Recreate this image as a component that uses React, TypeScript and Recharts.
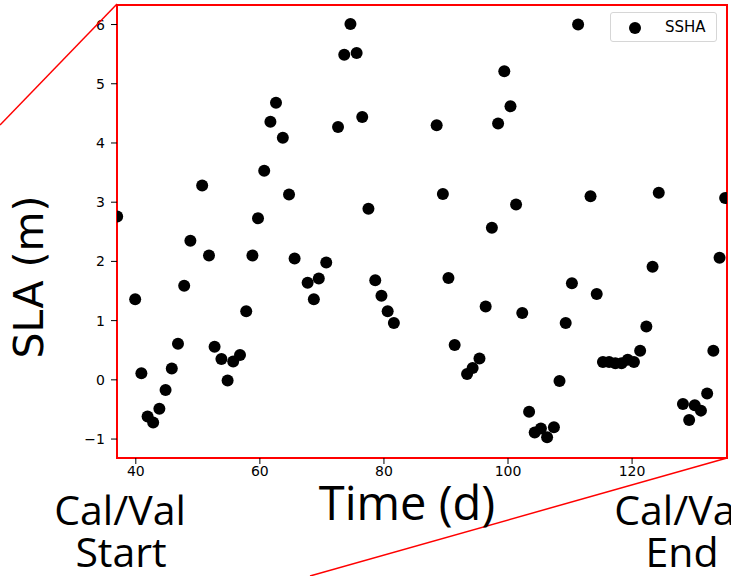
import React from "react";
import { ScatterChart, Scatter, XAxis, YAxis, ReferenceArea } from "recharts";

// days since start and sea level anomaly (m)
const days = [
  37.0, 39.9, 40.9, 41.9, 42.8, 43.8, 44.8, 45.8, 46.8, 47.8, 48.8, 50.7,
  51.8, 52.7, 53.8, 54.8, 55.7, 56.8, 57.8, 58.8, 59.7, 60.7, 61.7, 62.6,
  63.7, 64.7, 65.6, 67.7, 68.7, 69.5, 70.7, 72.6, 73.6, 74.6, 75.6, 76.5,
  77.5, 78.6, 79.6, 80.6, 81.6, 88.5, 89.5, 90.4, 91.4, 93.4, 94.3, 95.4,
  96.4, 97.4, 98.4, 99.4, 100.4, 101.3, 102.3, 103.4, 104.3, 105.3, 106.3,
  107.4, 108.3, 109.3, 110.3, 111.3, 113.3, 114.3, 115.3, 116.3, 117.3,
  118.3, 119.3, 120.3, 121.3, 122.3, 123.3, 124.3, 128.2, 129.2, 130.1,
  131.1, 132.1, 133.1, 134.1, 135.0,
];
const ssha = [
  2.76, 1.36, 0.11, -0.62, -0.72, -0.49, -0.17, 0.19, 0.61, 1.59, 2.35, 3.28,
  2.1, 0.56, 0.35, -0.01, 0.31, 0.42, 1.16, 2.1, 2.73, 3.53, 4.36, 4.68,
  4.09, 3.13, 2.05, 1.64, 1.36, 1.71, 1.98, 4.27, 5.49, 6.01, 5.52, 4.44,
  2.89, 1.68, 1.42, 1.16, 0.96, 4.3, 3.14, 1.72, 0.59, 0.1, 0.2, 0.36,
  1.24, 2.57, 4.33, 5.21, 4.62, 2.96, 1.13, -0.54, -0.89, -0.82, -0.97,
  -0.8, -0.02, 0.96, 1.63, 6.0, 3.1, 1.45, 0.3, 0.3, 0.28,
  0.28, 0.34, 0.3, 0.49, 0.9, 1.91, 3.16, -0.41, -0.68, -0.43,
  -0.52, -0.23, 0.49, 2.06, 3.07,
];
const xTicks = [40, 60, 80, 100, 120];
const yTicks = [-1, 0, 1, 2, 3, 4, 5, 6];
const xDomain = [36.97, 135.3];
const yDomain = [-1.32, 6.33];

const data = days.map((d, i) => ({ t: d, v: ssha[i] }));

const tickFont = { fontFamily: "DejaVu Sans", fontSize: 14, fill: "#000" };
const bigFont = "Open Sans";

// legend is drawn on top so it does not take room from the plot
function LegendBox() {
  return (
    <div
      style={{
        position: "absolute",
        left: 610,
        top: 12,
        width: 107,
        height: 30,
        border: "1px solid #d6d6d6",
        borderRadius: 3,
        background: "#fff",
        display: "flex",
        alignItems: "center",
        boxSizing: "border-box",
        fontFamily: "DejaVu Sans",
        fontSize: 15,
        color: "#000",
      }}
    >
      <svg width={46} height={20}>
        <circle cx={24} cy={11} r={6} fill="#000" />
      </svg>
      <span style={{ marginLeft: 8 }}>SSHA</span>
    </div>
  );
}

export default function App() {
  return (
    <div
      style={{
        position: "absolute",
        left: 0,
        top: 0,
        width: 731,
        height: 576,
        background: "#fff",
        overflow: "hidden",
      }}
    >
      <ScatterChart
        width={731}
        height={576}
        margin={{ top: 5, right: 4, left: 0, bottom: 0 }}
      >
        <XAxis
          type="number"
          dataKey="t"
          domain={xDomain}
          ticks={xTicks}
          allowDataOverflow
          axisLine={false}
          tickSize={6}
          tickMargin={2}
          tickLine={{ stroke: "#000" }}
          tick={tickFont}
          height={118}
        />
        <YAxis
          type="number"
          dataKey="v"
          domain={yDomain}
          ticks={yTicks}
          allowDataOverflow
          axisLine={false}
          tickSize={6}
          tickMargin={6}
          tickLine={{ stroke: "#000" }}
          tick={tickFont}
          tickFormatter={(v: number) => (v < 0 ? `\u2212${-v}` : `${v}`)}
          width={117}
        />
        <Scatter
          name="SSHA"
          data={data}
          isAnimationActive={false}
          shape={(p: any) => <circle cx={p.cx} cy={p.cy} r={6} fill="#000" />}
        />
        <ReferenceArea
          x1={xDomain[0]}
          x2={xDomain[1]}
          y1={yDomain[0]}
          y2={yDomain[1]}
          fill="none"
          fillOpacity={0}
          stroke="#ff0000"
          strokeWidth={2}
          ifOverflow="visible"
        />
      </ScatterChart>
      <LegendBox />
      <svg
        width={731}
        height={576}
        style={{ position: "absolute", left: 0, top: 0, pointerEvents: "none" }}
      >
        <line x1={117} y1={4} x2={0} y2={125} stroke="#ff0000" strokeWidth={1.5} />
        <line x1={727} y1={458} x2={310} y2={576} stroke="#ff0000" strokeWidth={1.5} />
        <text
          x={29}
          y={277}
          transform="rotate(-90 29 277)"
          textAnchor="middle"
          dominantBaseline="central"
          fontFamily="DejaVu Sans"
          fontSize={41}
          fill="#000"
        >
          SLA (m)
        </text>
        <text x={407} y={520} textAnchor="middle" fontFamily={bigFont} fontSize={47} fill="#000">
          Time (d)
        </text>
        <text x={120} y={525} textAnchor="middle" fontFamily={bigFont} fontSize={41} fill="#000">
          Cal/Val
        </text>
        <text x={121} y={567} textAnchor="middle" fontFamily={bigFont} fontSize={41} fill="#000">
          Start
        </text>
        <text x={680} y={525} textAnchor="middle" fontFamily={bigFont} fontSize={41} fill="#000">
          Cal/Val
        </text>
        <text x={682} y={567} textAnchor="middle" fontFamily={bigFont} fontSize={41} fill="#000">
          End
        </text>
      </svg>
    </div>
  );
}
